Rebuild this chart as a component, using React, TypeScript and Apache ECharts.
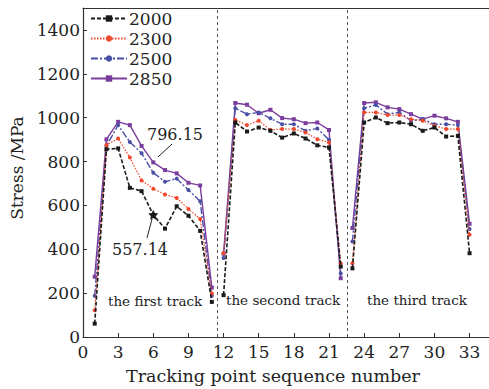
import React, { useEffect, useRef } from "react";
import * as echarts from "echarts";

const xPoints = [1,2,3,4,5,6,7,8,9,10,11,12,13,14,15,16,17,18,19,20,21,22,23,24,25,26,27,28,29,30,31,32,33];
const trackBreaks = [11, 22];
const s2000 = [61, 856, 860, 680, 665, 557.14, 494, 596, 553, 484, 160, 191, 978, 937, 955, 940, 909, 928, 905, 874, 864, 321, 313, 978, 1001, 975, 978, 970, 940, 955, 914, 917, 382];
const s2300 = [122, 875, 905, 818, 714, 676, 650, 634, 584, 538, 198, 382, 990, 966, 986, 944, 948, 948, 932, 902, 887, 336, 336, 1024, 1024, 1012, 1012, 993, 986, 963, 948, 948, 466];
const s2500 = [188, 871, 966, 889, 838, 749, 708, 722, 670, 619, 188, 360, 1043, 1016, 1024, 997, 970, 970, 940, 951, 899, 290, 435, 1043, 1058, 1016, 1024, 986, 993, 970, 970, 966, 492];
const s2850 = [275, 901, 981, 966, 871, 796.15, 761, 746, 703, 691, 225, 380, 1067, 1059, 1020, 1036, 998, 993, 975, 978, 944, 268, 497, 1067, 1070, 1047, 1039, 1016, 993, 1009, 997, 981, 516];
const seriesNames = ["2000", "2300", "2500", "2850"];
const dividers = [11.5, 22.55];
const trackLabels = ["the first track", "the second track", "the third track"];
const annotations = ["796.15", "557.14"];
const xTitle = "Tracking point sequence number";
const yTitle = "Stress /MPa";

const FONT = "DejaVu Serif";
const STAR = "path://M0,-10 L2.9,-4 9.5,-3.1 4.7,1.5 5.9,8.1 0,5 -5.9,8.1 -4.7,1.5 -9.5,-3.1 -2.9,-4Z";

function build(values: number[], starAt?: number) {
  const out: any[] = [];
  values.forEach((v, i) => {
    const x = xPoints[i];
    if (starAt !== undefined && x === starAt) {
      out.push({ value: [x, v], symbol: STAR, symbolSize: 10 });
    } else {
      out.push([x, v]);
    }
    if (trackBreaks.includes(x)) out.push([x + 0.5, "-"]);
  });
  return out;
}

export default function App() {
  const ref = useRef<HTMLDivElement>(null);
  useEffect(() => {
    if (!ref.current) return;
    const chart = echarts.init(ref.current, undefined, { renderer: "svg" });
    const styles = [
      { color: "#1a1a1a", type: [4, 2], width: 1.6, symbol: "rect" },
      { color: "#f0462a", type: [1.5, 1.5], width: 1.2, symbol: "circle" },
      { color: "#4a4fa6", type: [7, 2, 2, 2], width: 1.4, symbol: "circle" },
      { color: "#7a3d9e", type: "solid", width: 1.4, symbol: "rect" },
    ];
    const datas = [build(s2000, 6), build(s2300), build(s2500), build(s2850)];
    const series: any[] = seriesNames.map((n, i) => ({
      name: n,
      type: "line",
      data: datas[i],
      symbol: styles[i].symbol,
      symbolSize: 4,
      connectNulls: false,
      itemStyle: { color: styles[i].color },
      lineStyle: { color: styles[i].color, type: styles[i].type as any, width: styles[i].width },
      z: 10 - i,
    }));
    series[0].markLine = {
      silent: true,
      symbol: "none",
      label: { show: false },
      lineStyle: { color: "#555", type: [3, 3], width: 1 },
      data: dividers.map((d) => ({ xAxis: d })),
    };
    const axisText = { fontFamily: FONT, fontSize: 17, color: "#222" };
    const plain = (v: number) => String(v);
    const trackFont = `13.5px "${FONT}"`;
    chart.setOption({
      animation: false,
      backgroundColor: "#fff",
      grid: { left: 83, right: -4, top: 8, bottom: 52, outerBoundsMode: "none" } as any,
      legend: {
        orient: "vertical",
        left: 85,
        top: 5,
        itemWidth: 36,
        itemHeight: 8,
        itemGap: 3,
        textStyle: { fontFamily: FONT, fontSize: 17, color: "#222", lineHeight: 17, padding: [0, 0, 0, -3] },
        data: seriesNames,
      },
      xAxis: [
        {
          type: "value",
          min: 0,
          max: 35,
          interval: 3,
          axisLine: { lineStyle: { color: "#333", width: 1.2 } },
          axisTick: { inside: true, length: 4, lineStyle: { color: "#333" } },
          axisLabel: { ...axisText, margin: 6, showMaxLabel: false, formatter: plain },
          splitLine: { show: false },
        },
        {
          type: "value",
          position: "top",
          min: 0,
          max: 35,
          axisLine: { show: true, lineStyle: { color: "#333", width: 1.2 } },
          axisTick: { show: false },
          axisLabel: { show: false },
          splitLine: { show: false },
        },
      ],
      yAxis: {
        type: "value",
        min: 0,
        max: 1500,
        interval: 200,
        axisLine: { show: true, lineStyle: { color: "#333", width: 1.2 } },
        axisTick: { show: true, inside: true, length: 4, lineStyle: { color: "#333" } },
        axisLabel: { ...axisText, margin: 3, showMaxLabel: false, formatter: plain },
        splitLine: { show: false },
      },
      graphic: [
        { type: "text", x: 273, y: 376, style: { text: xTitle, font: `17.5px "${FONT}"`, fill: "#222", textAlign: "center", textVerticalAlign: "middle" }, z: 20 },
        { type: "text", x: 17, y: 168, rotation: Math.PI / 2, style: { text: yTitle, font: `17px "${FONT}"`, fill: "#222", textAlign: "center", textVerticalAlign: "middle" }, z: 20 },
        { type: "text", left: 108, top: 294, style: { text: trackLabels[0], font: trackFont, fill: "#222" }, z: 20 },
        { type: "text", left: 226, top: 293, style: { text: trackLabels[1], font: trackFont, fill: "#222" }, z: 20 },
        { type: "text", left: 367, top: 293, style: { text: trackLabels[2], font: trackFont, fill: "#222" }, z: 20 },
        { type: "text", left: 147, top: 126, style: { text: annotations[0], font: `16px "${FONT}"`, fill: "#222" }, z: 20 },
        { type: "line", shape: { x1: 158, y1: 157, x2: 172, y2: 144 }, style: { stroke: "#222", lineWidth: 1 }, z: 20 },
        { type: "text", left: 112, top: 241, style: { text: annotations[1], font: `16px "${FONT}"`, fill: "#222" }, z: 20 },
        { type: "line", shape: { x1: 147, y1: 238, x2: 152, y2: 219 }, style: { stroke: "#222", lineWidth: 1 }, z: 20 },
      ],
      series,
    });
    return () => chart.dispose();
  }, []);
  return <div ref={ref} style={{ position: "absolute", left: 0, top: 0, width: 489, height: 389 }} />;
}
